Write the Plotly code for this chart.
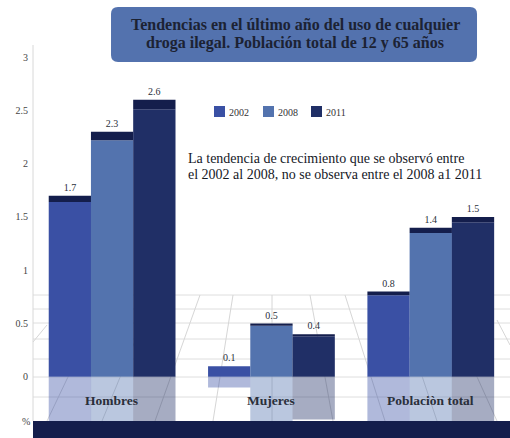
import plotly.graph_objects as go

categories = ["Hombres", "Mujeres", "Poblaciòn total"]
years = ["2002", "2008", "2011"]
values = {
    "2002": [1.7, 0.1, 0.8],
    "2008": [2.3, 0.5, 1.4],
    "2011": [2.6, 0.4, 1.5],
}
top_edge = {
    "2002": [0.06, 0.0, 0.035],
    "2008": [0.08, 0.02, 0.05],
    "2011": [0.09, 0.02, 0.05],
}
title_lines = ["Tendencias en el último año del uso de cualquier",
               "droga ilegal. Población total de 12 y 65 años"]
note_lines = ["La tendencia de crecimiento que se observó entre",
              "el 2002 al 2008, no se observa entre el 2008 a1 2011"]
colors = {"2002": "#3A50A4", "2008": "#5373AE", "2011": "#202F66"}
EDGE = "#141E4C"
W = 510
H = 438
L = 32
SERIF = "Liberation Serif"
TEXT = "#2A2F3A"
BAR_W = 0.2656
offs = {"2002": -0.395, "2008": -0.13, "2011": 0.135}


def px(x):
    return (x - L) / (W - L)


def py(y):
    return 1 - y / H


fig = go.Figure()
for yr in years:
    fig.add_bar(
        x=categories, y=[-v for v in values[yr]], width=BAR_W, offset=offs[yr],
        marker=dict(color=colors[yr], opacity=0.4, line_width=0),
        hoverinfo="skip",
    )
for yr in years:
    body = [v - e for v, e in zip(values[yr], top_edge[yr])]
    fig.add_bar(
        x=categories, y=body, width=BAR_W, offset=offs[yr], name=yr,
        marker=dict(color=colors[yr], line_width=0),
    )
    fig.add_bar(
        x=categories, y=top_edge[yr], base=body, width=BAR_W, offset=offs[yr],
        marker=dict(color=EDGE, line_width=0), hoverinfo="skip",
        text=[f"{v:g}" for v in values[yr]], textposition="outside",
        textangle=0, constraintext="none", cliponaxis=False,
        textfont=dict(family=SERIF, size=10, color=TEXT),
    )

shapes = []
for gy in [295, 309, 323, 339, 359, 377, 397]:
    shapes.append(dict(type="line", xref="paper", yref="paper", layer="below",
                       x0=px(33), x1=1, y0=py(gy), y1=py(gy),
                       line=dict(color="#DEDEDE", width=1)))
for (xa, ya, xb, yb) in [(47, 325, 33, 342), (107, 295, 47, 421), (154, 295, 102, 421),
                         (200, 295, 155, 421), (233, 295, 213, 421), (272, 295, 272, 421),
                         (310, 295, 333, 421), (345, 295, 385, 421), (395, 295, 437, 421),
                         (440, 295, 497, 421), (497, 320, 510, 345)]:
    shapes.append(dict(type="line", xref="paper", yref="paper", layer="below",
                       x0=px(xa), x1=px(xb), y0=py(ya), y1=py(yb),
                       line=dict(color="#D6D6D6", width=1)))
shapes.append(dict(type="line", xref="paper", yref="paper", layer="below",
                   x0=px(33), x1=px(33), y0=py(421), y1=py(45),
                   line=dict(color="#D8D8D8", width=1)))
shapes.append(dict(type="rect", xref="paper", yref="paper", layer="above",
                   x0=px(33), x1=1, y0=0, y1=py(421),
                   fillcolor="#141E4C", line_width=0))
shapes.append(dict(type="path", xref="paper", yref="paper", layer="above",
                   path=" ".join(
                       f"{c} {px(x):.4f} {py(y):.4f}" for c, x, y in [
                           ("M", 118, 7), ("L", 470, 7), ("Q", 477, 7), ("", 477, 14), ("L", 477, 55),
                           ("Q", 477, 62), ("", 470, 62), ("L", 118, 62), ("Q", 111, 62), ("", 111, 55),
                           ("L", 111, 14), ("Q", 111, 7), ("", 118, 7)]) + " Z",
                   fillcolor="#5372AE", line_width=0))

annotations = []
for line, ly in zip(title_lines, [25, 43]):
    annotations.append(dict(text=line, xref="paper", yref="paper", x=px(295), y=py(ly),
                            yanchor="middle", showarrow=False,
                            font=dict(family=SERIF, size=16, color="#1C2233", weight="bold")))
for line, ly in zip(note_lines, [158, 174]):
    annotations.append(dict(text=line, xref="paper", yref="paper", x=px(186), y=py(ly),
                            xanchor="left", yanchor="middle", showarrow=False,
                            font=dict(family=SERIF, size=14, color="#15181F")))
annotations.append(dict(text="%", xref="paper", yref="paper", x=px(20), y=py(421),
                        yanchor="middle", showarrow=False,
                        font=dict(family=SERIF, size=10, color="#444444")))
for c in categories:
    annotations.append(dict(text=c, x=c, xref="x", yref="paper", y=py(400), yanchor="middle",
                            showarrow=False,
                            font=dict(family=SERIF, size=13.5, color="#2A2F3A", weight="bold")))
for yr, lx in zip(years, [214, 263, 311]):
    shapes.append(dict(type="rect", xref="paper", yref="paper", layer="above",
                       x0=px(lx), x1=px(lx + 11), y0=py(117), y1=py(106),
                       fillcolor=colors[yr], line_width=0))
    annotations.append(dict(text=yr, xref="paper", yref="paper", x=px(lx + 13),
                            y=py(112), xanchor="left", yanchor="middle", showarrow=False,
                            font=dict(family=SERIF, size=10, color="#333333")))

fig.update_layout(
    width=W, height=H, autosize=False,
    margin=dict(l=L, r=0, t=0, b=0),
    paper_bgcolor="white", plot_bgcolor="rgba(0,0,0,0)",
    barmode="overlay", showlegend=False,
    shapes=shapes, annotations=annotations,
    xaxis=dict(type="category", categoryorder="array", categoryarray=categories,
               range=[-0.5, 2.5], visible=False),
    yaxis=dict(range=[-0.574, 3.536], tickvals=[0, 0.5, 1, 1.5, 2, 2.5, 3],
               ticktext=["0", "0.5", "1", "1.5", "2", "2.5", "3"], showgrid=False,
               zeroline=False, showline=False, ticks="", ticklabelstandoff=3,
               tickfont=dict(family=SERIF, size=10, color="#444444")),
)
fig.write_html("out.html", config={"displayModeBar": False},
               post_script="document.body.style.margin='0';document.documentElement.style.overflow='hidden';")
